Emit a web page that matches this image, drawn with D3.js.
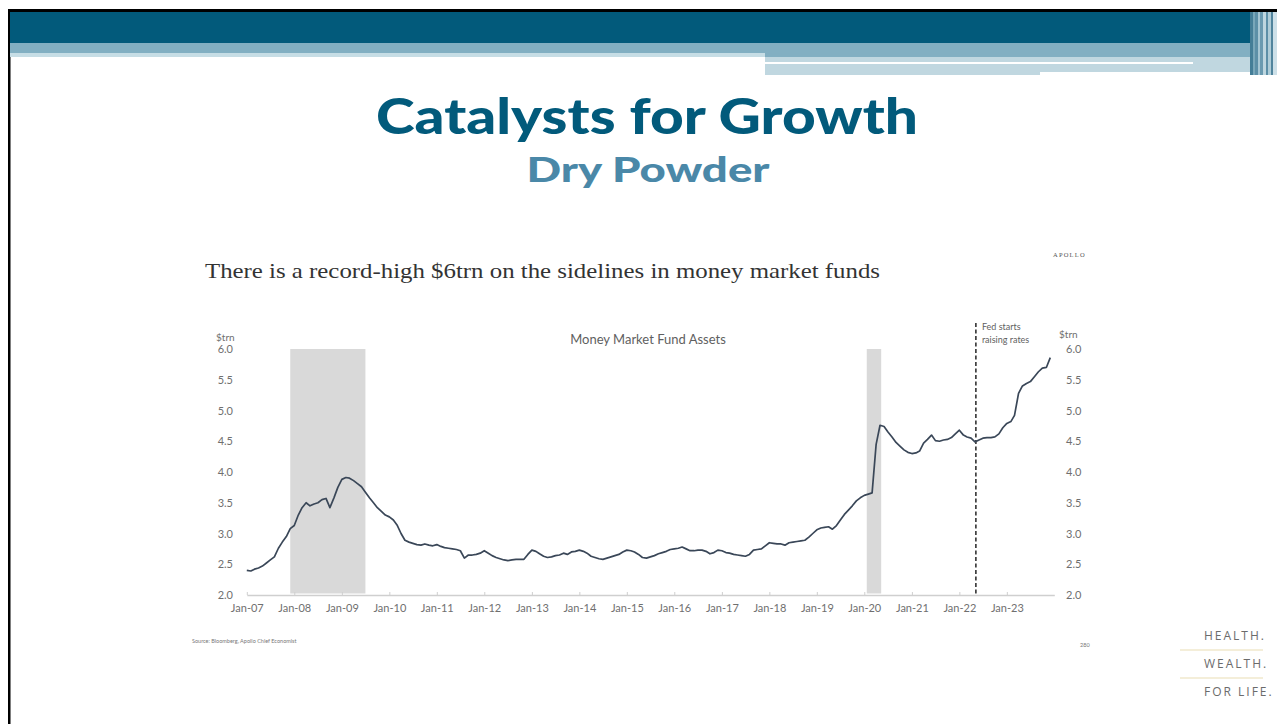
<!DOCTYPE html>
<html>
<head>
<meta charset="utf-8">
<script src="https://cdn.jsdelivr.net/npm/d3@7"></script>
<style>
  html, body { margin: 0; padding: 0; background: #fff; }
  svg { display: block; }
</style>
</head>
<body>
<svg id="chart" width="1277" height="724"></svg>
<script>
// ---------- DATA ----------
const years = [2007,2008,2009,2010,2011,2012,2013,2014,2015,2016,2017,2018,2019,2020,2021,2022,2023];
// monthly money market fund assets ($trn), Jan..Dec for each year
const assets2007 = [2.40,2.39,2.42,2.44,2.47,2.52,2.57,2.62,2.76,2.86,2.95,3.08];
const assets2008 = [3.13,3.30,3.42,3.50,3.45,3.48,3.50,3.55,3.57,3.42,3.58,3.75];
const assets2009 = [3.88,3.91,3.90,3.86,3.81,3.76,3.67,3.58,3.50,3.42,3.36,3.30];
const assets2010 = [3.27,3.22,3.14,3.00,2.89,2.86,2.84,2.82,2.81,2.83,2.81,2.80];
const assets2011 = [2.82,2.79,2.77,2.76,2.75,2.74,2.72,2.60,2.65,2.65,2.66,2.68];
const assets2012 = [2.72,2.68,2.64,2.61,2.59,2.57,2.56,2.57,2.58,2.58,2.58,2.66];
const assets2013 = [2.73,2.71,2.67,2.63,2.61,2.62,2.64,2.65,2.68,2.66,2.70,2.71];
const assets2014 = [2.73,2.71,2.68,2.63,2.61,2.59,2.58,2.60,2.62,2.64,2.66,2.70];
const assets2015 = [2.73,2.72,2.70,2.66,2.61,2.60,2.62,2.64,2.67,2.69,2.71,2.74];
const assets2016 = [2.75,2.76,2.78,2.75,2.72,2.72,2.73,2.73,2.71,2.67,2.69,2.73];
const assets2017 = [2.72,2.69,2.68,2.66,2.65,2.64,2.63,2.66,2.73,2.74,2.75,2.80];
const assets2018 = [2.85,2.84,2.83,2.83,2.81,2.85,2.86,2.87,2.88,2.89,2.94,3.00];
const assets2019 = [3.06,3.09,3.10,3.11,3.07,3.13,3.22,3.31,3.38,3.45,3.53,3.58];
const assets2020 = [3.62,3.64,3.66,4.45,4.76,4.74,4.65,4.57,4.48,4.42,4.36,4.32];
const assets2021 = [4.30,4.31,4.34,4.47,4.53,4.60,4.51,4.50,4.52,4.53,4.56,4.62];
const assets2022 = [4.68,4.60,4.57,4.55,4.49,4.52,4.55,4.56,4.56,4.57,4.62,4.72];
const assets2023 = [4.79,4.82,4.92,5.28,5.40,5.44,5.47,5.55,5.63,5.69,5.70,5.86];
const assetsByYear = [assets2007,assets2008,assets2009,assets2010,assets2011,assets2012,assets2013,assets2014,
                      assets2015,assets2016,assets2017,assets2018,assets2019,assets2020,assets2021,assets2022,assets2023];

const recessions = [["2007-12-01","2009-07-01"],["2020-01-20","2020-05-10"]];
const fedDate = "2022-05-08";
const yTicks = [2.0,2.5,3.0,3.5,4.0,4.5,5.0,5.5,6.0];
const xTickYears = years;

const series = [];
years.forEach((yr, i) => assetsByYear[i].forEach((v, m) => series.push({date: new Date(Date.UTC(yr, m, 1)), value: v})));

// ---------- DRAW ----------
const svg = d3.select("#chart");
const W = 1277, H = 724;

// frame & header
svg.append("rect").attr("x",8).attr("y",9).attr("width",W-8).attr("height",3).attr("fill","#000");
svg.append("rect").attr("x",8).attr("y",9).attr("width",2.5).attr("height",H-9).attr("fill","#000");
svg.append("rect").attr("x",10).attr("y",12).attr("width",1240).attr("height",31).attr("fill","#025a7b");
svg.append("rect").attr("x",10).attr("y",43).attr("width",1240).attr("height",10).attr("fill","#82afc2");
svg.append("rect").attr("x",10).attr("y",53).attr("width",755).attr("height",4).attr("fill","#c6dde5");
svg.append("rect").attr("x",765).attr("y",53).attr("width",485).attr("height",4).attr("fill","#82afc2");
svg.append("rect").attr("x",765).attr("y",57).attr("width",485).attr("height",18).attr("fill","#c0d7e0");
svg.append("rect").attr("x",765).attr("y",62).attr("width",428).attr("height",2).attr("fill","#fff");
svg.append("rect").attr("x",1040).attr("y",72).attr("width",215).attr("height",3).attr("fill","#fff");
// right edge stripes
const stripes = [[1250,3,"#2f6f8c"],[1253,2,"#6a9db3"],[1255,3,"#4a839d"],[1258,2,"#9cc0cf"],[1260,3,"#5a8fa7"],
                 [1263,3,"#b7d2dc"],[1266,2,"#4a839d"],[1268,3,"#a5c6d3"],[1271,2,"#3d7792"],[1273,4,"#c8dde5"]];
stripes.forEach(s => svg.append("rect").attr("x",s[0]).attr("y",12).attr("width",s[1]).attr("height",63).attr("fill",s[2]).attr("opacity",0.9));

// titles
svg.append("text").attr("x",647).attr("y",134).attr("text-anchor","middle")
  .attr("font-family","Lato, 'Open Sans', sans-serif").attr("font-weight",900).attr("font-size",50)
  .attr("fill","#025a7b").attr("textLength",542).attr("lengthAdjust","spacingAndGlyphs")
  .text("Catalysts for Growth");
svg.append("text").attr("x",648).attr("y",182).attr("text-anchor","middle")
  .attr("font-family","Lato, 'Open Sans', sans-serif").attr("font-weight",900).attr("font-size",35)
  .attr("fill","#4a88a8").attr("textLength",243).attr("lengthAdjust","spacingAndGlyphs")
  .text("Dry Powder");

// chart header text
svg.append("text").attr("x",205).attr("y",278)
  .attr("font-family","'Liberation Serif', 'DejaVu Serif', serif").attr("font-size",21)
  .attr("fill","#333").attr("textLength",675).attr("lengthAdjust","spacingAndGlyphs")
  .text("There is a record-high $6trn on the sidelines in money market funds");
svg.append("text").attr("x",1053).attr("y",257)
  .attr("font-family","'Liberation Serif', serif").attr("font-size",6.5).attr("letter-spacing",1.2)
  .attr("fill","#555").text("APOLLO");

// scales
const x = d3.scaleTime().domain([new Date(Date.UTC(2007,0,1)), new Date(Date.UTC(2024,0,1))]).range([246.8, 1054.3]);
const y = d3.scaleLinear().domain([2, 6]).range([595, 349]);

// recession shading
recessions.forEach(r => {
  const x0 = x(new Date(r[0])), x1 = x(new Date(r[1]));
  svg.append("rect").attr("x",x0).attr("y",y(6)).attr("width",x1-x0).attr("height",y(2)-y(6)-1.5).attr("fill","#d9d9d9");
});

// axes
const tickFont = "Lato, 'Open Sans', sans-serif";
const gx = svg.append("g").attr("transform","translate(0,595)")
  .call(d3.axisBottom(x).tickValues(xTickYears.map(yr => new Date(Date.UTC(yr,0,1))))
        .tickFormat(d3.utcFormat("Jan-%y")).tickSizeInner(-3).tickSizeOuter(0).tickPadding(9));
gx.select(".domain").attr("stroke","#cfcfcf").attr("stroke-width",1.3);
gx.selectAll(".tick line").attr("stroke","#cfcfcf");
gx.selectAll("text").attr("font-family",tickFont).attr("font-size",11).attr("fill","#6f6f6f");

const gyl = svg.append("g").attr("transform","translate(247,0)")
  .call(d3.axisLeft(y).tickValues(yTicks).tickFormat(d3.format(".1f")).tickSize(0).tickPadding(14));
gyl.select(".domain").remove();
gyl.selectAll("text").attr("font-family",tickFont).attr("font-size",11).attr("fill","#6f6f6f");

const gyr = svg.append("g").attr("transform","translate(1053,0)")
  .call(d3.axisRight(y).tickValues(yTicks).tickFormat(d3.format(".1f")).tickSize(0).tickPadding(13));
gyr.select(".domain").remove();
gyr.selectAll("text").attr("font-family",tickFont).attr("font-size",11).attr("fill","#6f6f6f");

svg.append("text").attr("x",216).attr("y",341).attr("font-family",tickFont).attr("font-size",10)
  .attr("fill","#6f6f6f").text("$trn");
svg.append("text").attr("x",1059).attr("y",338).attr("font-family",tickFont).attr("font-size",10)
  .attr("fill","#6f6f6f").text("$trn");

svg.append("text").attr("x",648).attr("y",344).attr("text-anchor","middle").attr("font-family",tickFont)
  .attr("font-size",13).attr("fill","#5f5f5f").text("Money Market Fund Assets");

// Fed line
const fx = x(new Date(fedDate));
svg.append("line").attr("x1",fx).attr("x2",fx).attr("y1",323).attr("y2",595)
  .attr("stroke","#333").attr("stroke-width",1.6).attr("stroke-dasharray","4,2.5");
svg.append("text").attr("x",fx+6).attr("y",330).attr("font-family",tickFont).attr("font-size",9)
  .attr("fill","#5f5f5f").text("Fed starts");
svg.append("text").attr("x",fx+6).attr("y",343).attr("font-family",tickFont).attr("font-size",9)
  .attr("fill","#5f5f5f").text("raising rates");

// line
svg.append("path").datum(series)
  .attr("d", d3.line().x(d => x(d.date)).y(d => y(d.value)))
  .attr("fill","none").attr("stroke","#3a4758").attr("stroke-width",1.7).attr("stroke-linejoin","round");

// source
svg.append("text").attr("x",192).attr("y",643).attr("font-family",tickFont).attr("font-size",5.5)
  .attr("fill","#777").text("Source: Bloomberg, Apollo Chief Economist");
svg.append("text").attr("x",1080).attr("y",647).attr("font-family",tickFont).attr("font-size",5.5)
  .attr("fill","#777").text("280");

// tagline
const tagFont = "'Open Sans', Lato, sans-serif";
[["HEALTH.",640],["WEALTH.",668],["FOR LIFE.",696]].forEach(t => {
  svg.append("text").attr("x",1204).attr("y",t[1]).attr("font-family",tagFont).attr("font-size",12)
    .attr("letter-spacing",2).attr("fill","#6b6b6b").text(t[0]);
});
[649,677].forEach(yy => svg.append("rect").attr("x",1180).attr("y",yy).attr("width",83).attr("height",2).attr("fill","#f4eed9"));
</script>
</body>
</html>
